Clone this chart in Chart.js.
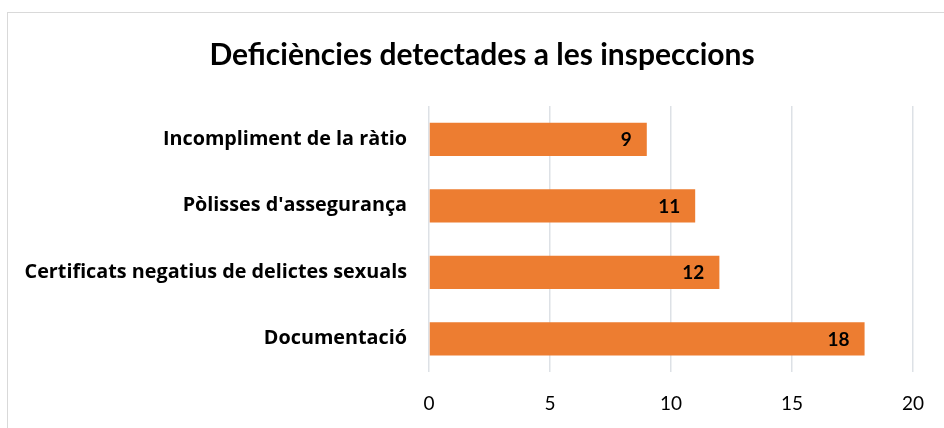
<!DOCTYPE html>
<html>
<head>
<meta charset="utf-8">
<script src="https://cdn.jsdelivr.net/npm/chart.js@4"></script>
<style>
    body { margin: 0; background: #fff; }
    #frame {
        position: absolute; left: 7px; top: 12px; width: 960px; height: 440px;
        border: 1px solid #d9d9d9;
    }
    #wrap { position: absolute; left: 0; top: 0; width: 944px; height: 428px; }
</style>
</head>
<body>
<div id="frame"></div>
<div id="wrap"><canvas id="chart" width="944" height="428"></canvas></div>
<script>
// dades del gràfic
const categories = [
    'Incompliment de la ràtio',
    "Pòlisses d'assegurança",
    'Certificats negatius de delictes sexuals',
    'Documentació'
];
const values = [9, 11, 12, 18];
const xTicks = [0, 5, 10, 15, 20];

const FONT = 'Lato, "Open Sans", sans-serif';
const LABEL_FONT = '"Open Sans", Lato, sans-serif';

// etiquetes de valor a l'interior del final de la barra
const valueLabels = {
    id: 'valueLabels',
    afterLayout(chart) {
        // el títol queda centrat sobre el marc, no sobre tot el canvas
        if (chart.titleBlock) chart.titleBlock.left = 43;
    },
    afterDatasetsDraw(chart) {
        const ctx = chart.ctx;
        const meta = chart.getDatasetMeta(0);
        ctx.save();
        ctx.font = 'bold 19px ' + FONT;
        ctx.fillStyle = '#000';
        ctx.textAlign = 'right';
        ctx.textBaseline = 'middle';
        meta.data.forEach((bar, i) => {
            ctx.fillText(String(values[i]), bar.x - 15, bar.y + 1);
        });
        ctx.restore();
    }
};

new Chart(document.getElementById('chart'), {
    type: 'bar',
    data: {
        labels: categories,
        datasets: [{
            data: values,
            backgroundColor: '#ED7D31',
            borderWidth: 0,
            categoryPercentage: 1,
            barPercentage: 0.5
        }]
    },
    options: {
        indexAxis: 'y',
        responsive: false,
        animation: false,
        layout: { padding: { left: 0, right: 23, top: 0, bottom: 0 } },
        plugins: {
            legend: { display: false },
            tooltip: { enabled: false },
            title: {
                display: true,
                text: 'Deficiències detectades a les inspeccions',
                color: '#000',
                font: { family: FONT, size: 30, weight: 'bold', lineHeight: 1.2 },
                padding: { top: 37, bottom: 33 }
            }
        },
        scales: {
            x: {
                min: 0,
                max: 20,
                afterBuildTicks: (scale) => {
                    scale.ticks = xTicks.map(v => ({ value: v }));
                },
                afterFit: (scale) => { scale.height = 56; },
                grid: { color: '#dde1e6', lineWidth: 1.5, drawTicks: false },
                border: { display: false },
                ticks: {
                    color: '#000',
                    padding: 20,
                    font: { family: FONT, size: 19 }
                }
            },
            y: {
                afterFit: (scale) => { scale.width = 429; },
                grid: { display: false },
                border: { display: false },
                ticks: {
                    color: '#000',
                    padding: 14,
                    font: { family: LABEL_FONT, size: 19.8, weight: 'bold' }
                }
            }
        }
    },
    plugins: [valueLabels]
});
</script>
</body>
</html>
